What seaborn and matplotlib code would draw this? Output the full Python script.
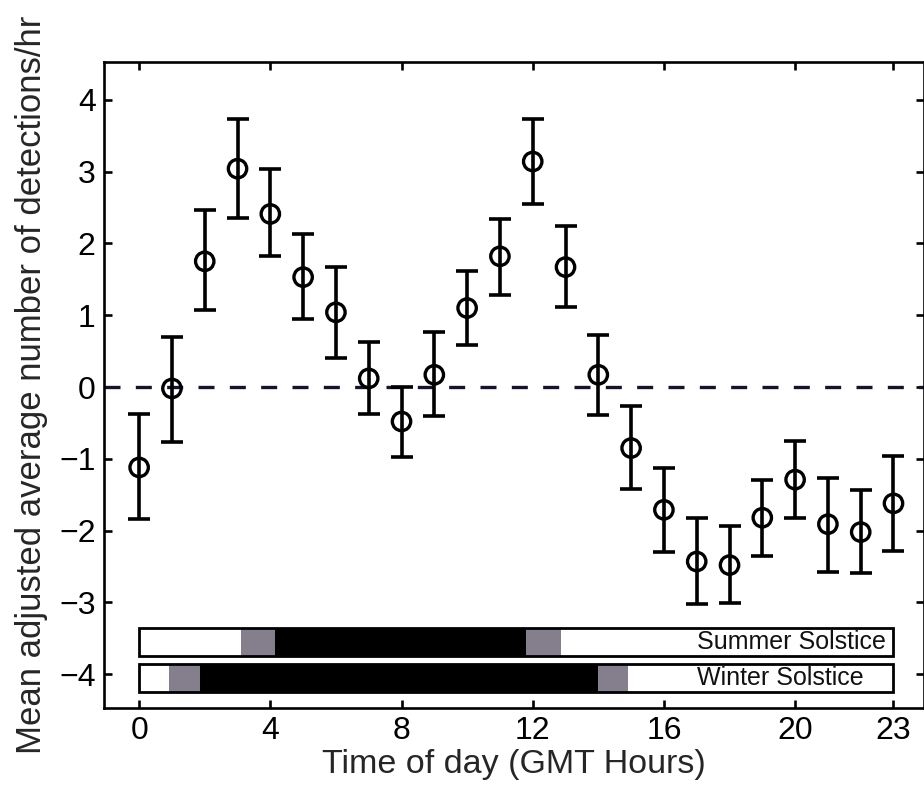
import numpy as np
import pandas as pd
import matplotlib
matplotlib.use("Agg")
import matplotlib.pyplot as plt
import seaborn as sns

# Hourly mean adjusted detection rate with error-bar extents
hours = list(range(24))
mean_rate = [-1.12, -0.02, 1.75, 3.04, 2.41, 1.53, 1.04, 0.12, -0.48, 0.17,
             1.10, 1.82, 3.14, 1.67, 0.17, -0.85, -1.71, -2.43, -2.48, -1.82,
             -1.29, -1.91, -2.02, -1.62]
err_upper = [-0.38, 0.70, 2.46, 3.73, 3.03, 2.13, 1.67, 0.63, 0.00, 0.76,
             1.62, 2.34, 3.73, 2.24, 0.73, -0.26, -1.13, -1.82, -1.94, -1.29,
             -0.75, -1.27, -1.43, -0.96]
err_lower = [-1.84, -0.76, 1.07, 2.35, 1.82, 0.95, 0.41, -0.38, -0.98, -0.41,
             0.58, 1.28, 2.55, 1.11, -0.39, -1.42, -2.30, -3.02, -3.01, -2.35,
             -1.82, -2.57, -2.59, -2.29]

# Daylight bands (GMT hours): day / twilight / night / twilight / day
band_colors = ["white", "#857e8c", "black", "#857e8c", "white"]
summer_edges = [0, 3.1, 4.15, 11.8, 12.85, 23]
winter_edges = [0, 0.9, 1.85, 14.0, 14.9, 23]
band_labels = ["Summer Solstice", "Winter Solstice"]
band_centers = [-3.55, -4.05]

x_ticks = [0, 4, 8, 12, 16, 20, 23]
y_ticks = [-4, -3, -2, -1, 0, 1, 2, 3, 4]

df = pd.DataFrame({"hour": hours, "rate": mean_rate,
                   "hi": err_upper, "lo": err_lower})

sns.set_theme(style="ticks")
plt.rcParams["font.family"] = ["Liberation Sans", "DejaVu Sans"]

fig = plt.figure(figsize=(9.24, 7.95), dpi=100)
ax = fig.add_axes([0.1126, 0.1094, 0.8874, 0.813])

# reference line at zero
ax.axhline(0, color="#14142c", lw=2.4, ls=(0, (4.8, 4.6)), zorder=1)

# error bars
yerr = np.vstack([df["rate"] - df["lo"], df["hi"] - df["rate"]])
ax.errorbar(df["hour"], df["rate"], yerr=yerr, fmt="none", ecolor="black",
            elinewidth=2.6, capsize=8, capthick=2.6, zorder=2)

# hollow circle markers
sns.scatterplot(data=df, x="hour", y="rate", marker="o", s=175,
                facecolors="none", edgecolor="black", linewidth=2.4,
                ax=ax, zorder=3)

# solstice daylight bars
bar_h = 0.38
for edges, yc, label in zip([summer_edges, winter_edges], band_centers, band_labels):
    lefts = edges[:-1]
    widths = np.diff(edges)
    ax.barh([yc] * len(lefts), widths, left=lefts, height=bar_h,
            color=band_colors, edgecolor="none", zorder=2)
    ax.barh([yc], [edges[-1] - edges[0]], left=[edges[0]], height=bar_h,
            facecolor="none", edgecolor="black", linewidth=2.0, zorder=3)
    ax.text(17.0, yc, label, ha="left", va="center", fontsize=18,
            color="#111111", zorder=4)

ax.set_xlim(-1.07, 23.93)
ax.set_ylim(-4.47, 4.53)
ax.set_xticks(x_ticks)
ax.set_yticks(y_ticks)
ax.set_yticklabels(["\u2212" + str(-t) if t < 0 else str(t) for t in y_ticks])

ax.set_xlabel("Time of day (GMT Hours)", fontsize=24.5, labelpad=2)
ax.set_ylabel("Mean adjusted average number of detections/hr", fontsize=25,
              labelpad=8)

for sp in ax.spines.values():
    sp.set_linewidth(1.9)
    sp.set_color("black")
    sp.set_visible(True)

ax.tick_params(axis="both", which="major", direction="in", length=6, width=1.9,
               labelsize=23, top=True, right=True, color="black",
               labelcolor="black", pad=6)

fig.savefig("out.png", dpi=100, facecolor="white")
